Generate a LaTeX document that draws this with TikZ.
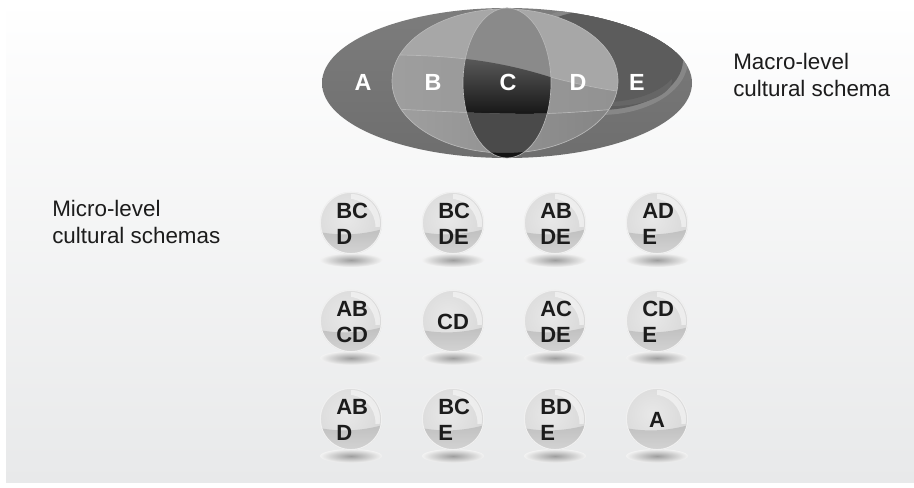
\documentclass[tikz,border=0pt]{standalone}
\usepackage{fontspec}
\setmainfont{Liberation Sans}
\definecolor{bgbot}{HTML}{E8E9EA}
\definecolor{txt}{HTML}{1C1C1C}
\definecolor{aGray}{HTML}{6E6E6E}
\definecolor{eGray}{HTML}{5C5C5C}
\definecolor{bdGray}{HTML}{A7A7A7}
\definecolor{cTop}{HTML}{8A8A8A}
\definecolor{cBot}{HTML}{4A4A4A}
\definecolor{edgeL}{HTML}{B8B8B8}
\definecolor{sphTop}{HTML}{D8D8D8}
\definecolor{sphHi}{HTML}{E8E8E8}
\definecolor{sphLow}{HTML}{C0C0C0}
\definecolor{sphLow2}{HTML}{D4D4D4}
\tikzset{
  elabel/.style={text=white, font=\fontsize{17.5}{20}\selectfont\bfseries, inner sep=0pt},
  balltxt/.style={text=txt, font=\fontsize{16.5}{19.5}\selectfont\bfseries, inner sep=0pt, align=left},
  sidetxt/.style={text=txt, font=\fontsize{16.8}{20.2}\selectfont, inner sep=0pt, align=left, anchor=north west},
  thinedge/.style={draw=edgeL, line width=0.5pt}
}
\newcommand\mysph[3]{%
  \shade[inner color=black!38, outer color=black!5] (#2,#3+37) ellipse [x radius=31, y radius=7];
  \begin{scope}
    \clip (#2,#3) circle (31);
    \fill[white] (#2-40,#3-40) rectangle (#2+40,#3+40);
    \shade[inner color=sphHi, outer color=sphTop] (#2-5,#3-5) circle (38);
    \shade[top color=sphLow, bottom color=sphLow2] (#2-32,#3+9) .. controls (#2-10,#3+13) and (#2+10,#3+12) .. (#2+32,#3+6) -- (#2+32,#3+32) -- (#2-32,#3+32) -- cycle;
    \clip (#2,#3-40) rectangle (#2+40,#3+4);
    \fill[white, opacity=0.5, even odd rule] (#2,#3) circle (29) (#2-4,#3+4) circle (28.5);
  \end{scope}
  \node[draw=white!88!gray, line width=0.9pt, circle, minimum size=46pt, inner sep=0pt] (#1) at (#2,#3) {};
}
\begin{document}
\begin{tikzpicture}[x=0.75pt, y=-0.75pt]
\useasboundingbox (0,0) rectangle (914,488);
\fill[white] (0,0) rectangle (914,488);
\shade[top color=white, bottom color=bgbot] (6,0) rectangle (914,482);

% ---------- macro-level ellipse ----------
\coordinate (M) at (507,83);
\shade[top color=aGray!90!white, bottom color=aGray] (M) ellipse [x radius=185, y radius=75];
\begin{scope}
  \clip (M) ellipse [x radius=185, y radius=75];
  \fill[black!47] (600,60) ellipse [x radius=88, y radius=55];
  \fill[eGray] (600,60) ellipse [x radius=83, y radius=50];
  \fill[black!60] (612,80) ellipse [x radius=60, y radius=26];
  \fill[eGray] (605,58) ellipse [x radius=76, y radius=44];
\end{scope}
% B/D ellipse
\coordinate (BD) at (505,81);
\fill[bdGray] (BD) ellipse [x radius=113, y radius=72];
\begin{scope}
  \clip (BD) ellipse [x radius=113, y radius=72];
  \shade[left color=black!36, right color=black!45]
    (300,57) .. controls (420,52) and (480,55) .. (550,77) .. controls (590,87) and (620,95) .. (720,100)
    -- (720,100) .. controls (650,106) and (600,111) .. (560,113) .. controls (500,116) and (420,110) .. (300,104) -- cycle;
  \shade[left color=black!33, right color=black!53]
    (300,104) .. controls (420,110) and (500,116) .. (560,113) .. controls (600,111) and (650,106) .. (720,100)
    -- (720,170) -- (300,170) -- cycle;
  \draw[thinedge] (300,57) .. controls (420,52) and (480,55) .. (550,77) .. controls (590,87) and (620,95) .. (720,100);
  \draw[thinedge] (300,104) .. controls (420,110) and (500,116) .. (560,113) .. controls (600,111) and (650,106) .. (720,100);
\end{scope}
\draw[thinedge] (BD) ellipse [x radius=113, y radius=72];
% C ellipse
\fill[cTop] (M) ellipse [x radius=44, y radius=75];
\begin{scope}
  \clip (M) ellipse [x radius=44, y radius=75];
  \shade[top color=black!62, bottom color=black!92]
    (300,57) .. controls (420,52) and (480,55) .. (550,77) .. controls (590,87) and (620,95) .. (720,100)
    -- (720,100) .. controls (650,106) and (600,111) .. (560,113) .. controls (500,116) and (420,110) .. (300,104) -- cycle;
  \fill[cBot] (300,104) .. controls (420,110) and (500,116) .. (560,113) .. controls (600,111) and (650,106) .. (720,100)
    -- (720,170) -- (300,170) -- cycle;
  \clip (300,140) rectangle (720,170);
  \fill[black!92, even odd rule] (300,0) rectangle (720,170) (BD) ellipse [x radius=113, y radius=72];
\end{scope}
\draw[thinedge] (M) ellipse [x radius=44, y radius=75];

\node[elabel] (lA) at (363,82) {A};
\node[elabel] (lB) at (433,82) {B};
\node[elabel] (lC) at (508,82) {C};
\node[elabel] (lD) at (578,82) {D};
\node[elabel] (lE) at (637,82) {E};

% ---------- side texts ----------
\node[sidetxt] (macro) at (733,53) {Macro-level\\cultural schema};
\node[sidetxt] (micro) at (52,200) {Micro-level\\cultural schemas};

% ---------- micro-level spheres ----------
\mysph{s11}{351}{223} \node[balltxt, anchor=north west] (t11) at (336,203) {BC\\D};
\mysph{s12}{453}{223} \node[balltxt, anchor=north west] (t12) at (438,203) {BC\\DE};
\mysph{s13}{555}{223} \node[balltxt, anchor=north west] (t13) at (540,203) {AB\\DE};
\mysph{s14}{657}{223} \node[balltxt, anchor=north west] (t14) at (642,203) {AD\\E};

\mysph{s21}{351}{321} \node[balltxt, anchor=north west] (t21) at (336,301) {AB\\CD};
\mysph{s22}{453}{321} \node[balltxt] (t22) at (453,322) {CD};
\mysph{s23}{555}{321} \node[balltxt, anchor=north west] (t23) at (540,301) {AC\\DE};
\mysph{s24}{657}{321} \node[balltxt, anchor=north west] (t24) at (642,301) {CD\\E};

\mysph{s31}{351}{419} \node[balltxt, anchor=north west] (t31) at (336,399) {AB\\D};
\mysph{s32}{453}{419} \node[balltxt, anchor=north west] (t32) at (438,399) {BC\\E};
\mysph{s33}{555}{419} \node[balltxt, anchor=north west] (t33) at (540,399) {BD\\E};
\mysph{s34}{657}{419} \node[balltxt] (t34) at (657,420) {A};
\end{tikzpicture}
\end{document}
